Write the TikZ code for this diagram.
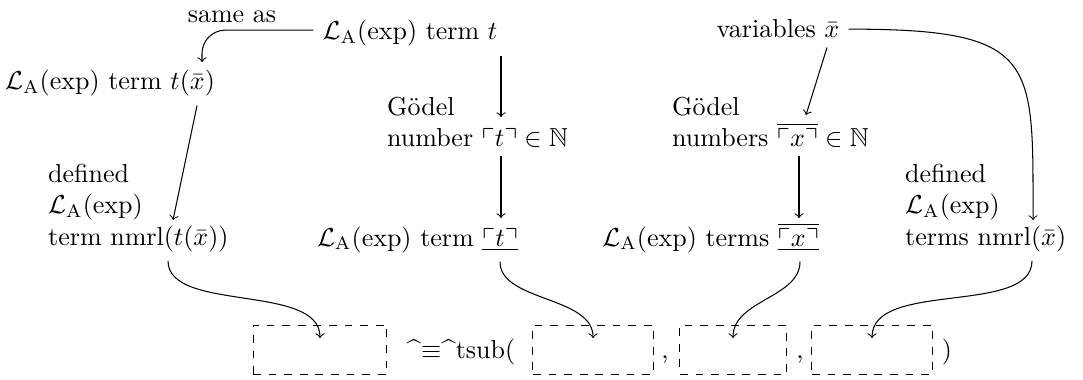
\documentclass[tikz,border=0pt]{standalone}
\usepackage{amssymb}
\usetikzlibrary{calc}
\begin{document}
\begin{tikzpicture}[x=0.3846pt,y=-0.3846pt,
  ml/.style={align=left, inner sep=3.33pt},
  slot/.style={draw, dashed, minimum width=#1, minimum height=19.2pt, inner sep=0pt},
  arr/.style={->}]
\useasboundingbox (0,0) rectangle (1083,380);

% text nodes
\node[anchor=base] (same) at (232,23) {same as};
\node[anchor=base] (T) at (410,40) {$\mathcal{L}_\mathrm{A}$(exp) term $t$};
\node[anchor=base] (Tx) at (110,90) {$\mathcal{L}_\mathrm{A}$(exp) term $t(\bar{x})$};
\node[anchor=base] (vars) at (778,38) {variables $\bar{x}$};
\node[ml, anchor=west] (G1) at (378,122) {Gödel\\number $\ulcorner t\urcorner\in\mathbb{N}$};
\node[ml, anchor=west] (G2) at (663,122) {Gödel\\numbers $\overline{\ulcorner x\urcorner}\in\mathbb{N}$};
\node[ml, anchor=west] (N1) at (39,208) {defined\\$\mathcal{L}_\mathrm{A}$(exp)\\term $\mathrm{nmrl}(t(\bar{x}))$};
\node[ml, anchor=west] (N2) at (896,208) {defined\\$\mathcal{L}_\mathrm{A}$(exp)\\terms $\mathrm{nmrl}(\bar{x})$};
\node[anchor=base east] (B1) at (527,246) {$\mathcal{L}_\mathrm{A}$(exp) term $\underline{\ulcorner t\urcorner}$};
\node[anchor=base east] (B2) at (828,246) {$\mathcal{L}_\mathrm{A}$(exp) terms $\underline{\overline{\ulcorner x\urcorner}}$};

% bottom row
\node[slot=51.5pt] (S1) at (320,350) {};
\node[anchor=base] (eq) at (461,358) {\textasciicircum$\equiv$\textasciicircum tsub(};
\node[slot=46.2pt] (S2) at (593,350) {};
\node[anchor=base] (c1) at (665,358) {,};
\node[slot=40.8pt] (S3) at (733,350) {};
\node[anchor=base] (c2) at (800,358) {,};
\node[slot=46.2pt] (S4) at (872,350) {};
\node[anchor=base] (cp) at (947,358) {)};

% arrow end / start coordinates
\coordinate (a1) at (202,62);
\coordinate (a2) at (173,220);
\coordinate (a3) at (501,117);
\coordinate (a4) at (501,218);
\coordinate (a5) at (806,115);
\coordinate (a6) at (1033,220);
\coordinate (a7) at (799,218);
\coordinate (s1) at (168,0);
\coordinate (s2) at (500,0);
\coordinate (s3) at (800,0);
\coordinate (s4) at (1032,0);

% connectors
\draw[arr, rounded corners=9pt] ([yshift=1.3pt]T.west) -| (a1);
\draw[arr] ($(Tx.south)+(87,0)$) -- (a2);
\draw[arr] (T.south -| a3) -- (a3);
\draw[arr] (G1.south -| a4) -- (a4);
\draw[arr] ($(vars.south)+(49,0)$) -- (a5);
\draw[arr] (vars.east) .. controls +(190,0) and +(0,-160) .. (a6);
\draw[arr] (G2.south -| a7) -- (a7);

\draw[arr] (N1.south -| s1) .. controls +(0,52) and +(0,-55) .. ($(S1.center)+(0,-12)$);
\draw[arr] (B1.south -| s2) .. controls +(0,40) and +(0,-42) .. ($(S2.center)+(0,-12)$);
\draw[arr] (B2.south -| s3) .. controls +(0,36) and +(0,-38) .. ($(S3.center)+(0,-12)$);
\draw[arr] (N2.south -| s4) .. controls +(0,55) and +(0,-58) .. ($(S4.center)+(0,-12)$);
\end{tikzpicture}
\end{document}
